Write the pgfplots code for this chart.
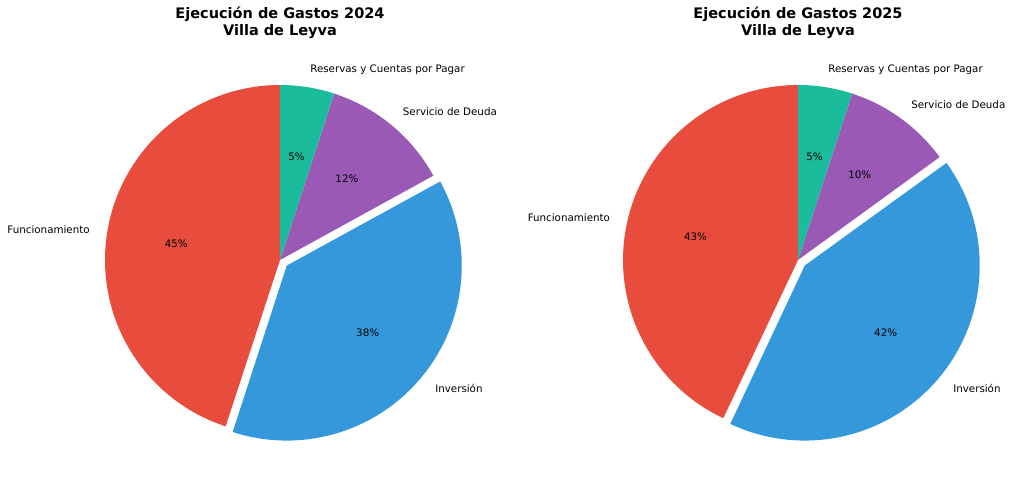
\documentclass[border=0pt]{standalone}
\usepackage{fontspec}
\setmainfont{DejaVu Sans}
\usepackage{pgfplots}
\usepackage{pgfplotstable}
\pgfplotsset{compat=1.18}

\definecolor{cRed}{HTML}{E74C3C}
\definecolor{cBlue}{HTML}{3498DB}
\definecolor{cPurple}{HTML}{9B59B6}
\definecolor{cTeal}{HTML}{1ABC9C}

\newcommand\labfont{\fontsize{10.3}{12.4}\selectfont}
\newcommand\titfont{\fontsize{14.5}{17.4}\selectfont\bfseries}
\newcommand\pieR{175}

\pgfplotstableread[col sep=comma,row sep=\\]{
label,value,color,explode\\
Funcionamiento,45,cRed,0\\
Inversión,38,cBlue,0.05\\
Servicio de Deuda,12,cPurple,0\\
Reservas y Cuentas por Pagar,5,cTeal,0\\
}\dataA

\pgfplotstableread[col sep=comma,row sep=\\]{
label,value,color,explode\\
Funcionamiento,43,cRed,0\\
Inversión,42,cBlue,0.05\\
Servicio de Deuda,10,cPurple,0\\
Reservas y Cuentas por Pagar,5,cTeal,0\\
}\dataB

\newcommand{\drawpie}[3]{%
  \def\cum{0}%
  \pgfplotsforeachungrouped \i in {0,1,2,3}{%
    \pgfplotstablegetelem{\i}{value}\of{#1}\let\val\pgfplotsretval
    \pgfplotstablegetelem{\i}{color}\of{#1}\let\col\pgfplotsretval
    \pgfplotstablegetelem{\i}{explode}\of{#1}\let\ex\pgfplotsretval
    \pgfplotstablegetelem{\i}{label}\of{#1}\let\lab\pgfplotsretval
    \pgfmathsetmacro{\aS}{90+3.6*\cum}%
    \pgfmathsetmacro{\aE}{90+3.6*(\cum+\val)}%
    \pgfmathsetmacro{\aM}{(\aS+\aE)/2}%
    \pgfmathsetmacro{\cM}{cos(\aM)}%
    \pgfmathsetmacro{\sM}{sin(\aM)}%
    \pgfmathsetmacro{\ox}{#2+\ex*\pieR*\cM}%
    \pgfmathsetmacro{\oy}{#3+\ex*\pieR*\sM}%
    \pgfmathsetmacro{\px}{\ox+0.6*\pieR*\cM}%
    \pgfmathsetmacro{\py}{\oy+0.6*\pieR*\sM}%
    \pgfmathsetmacro{\lx}{\ox+1.1*\pieR*\cM}%
    \pgfmathsetmacro{\ly}{\oy+1.1*\pieR*\sM}%
    \ifdim\cM pt>0pt \def\anc{west}\else\def\anc{east}\fi
    \edef\doplot{%
      \noexpand\addplot[fill=\col, draw=none, variable=\noexpand\t, samples at={-1,0,0.01,...,1,2}]
      ({\ox+(\noexpand\t>-0.5)*(\noexpand\t<1.5)*\pieR*cos(\aS+(\aE-\aS)*min(max(\noexpand\t,0),1))},
       {\oy+(\noexpand\t>-0.5)*(\noexpand\t<1.5)*\pieR*sin(\aS+(\aE-\aS)*min(max(\noexpand\t,0),1))});
      \noexpand\node[font=\noexpand\labfont, inner sep=0pt] at (axis cs:\px,\py) {\val\noexpand\%};
      \noexpand\node[font=\noexpand\labfont, inner sep=0pt, anchor=\anc] at (axis cs:\lx,\ly) {\lab};
    }%
    \doplot
    \pgfmathsetmacro{\cum}{\cum+\val}%
  }%
}

\begin{document}
\begin{tikzpicture}
\begin{axis}[
  scale only axis, width=1024pt, height=486pt,
  xmin=0, xmax=1024, ymin=-486, ymax=0,
  hide axis, clip=false,
]
\drawpie{\dataA}{280}{-260}
\drawpie{\dataB}{798}{-260}
\node[font=\titfont, align=center] at (axis cs:280,-22.5) {Ejecución de Gastos 2024\\Villa de Leyva};
\node[font=\titfont, align=center] at (axis cs:798,-22.5) {Ejecución de Gastos 2025\\Villa de Leyva};
\end{axis}
\pgfresetboundingbox
\path (0,0) rectangle (1024pt,486pt);
\end{tikzpicture}
\end{document}
